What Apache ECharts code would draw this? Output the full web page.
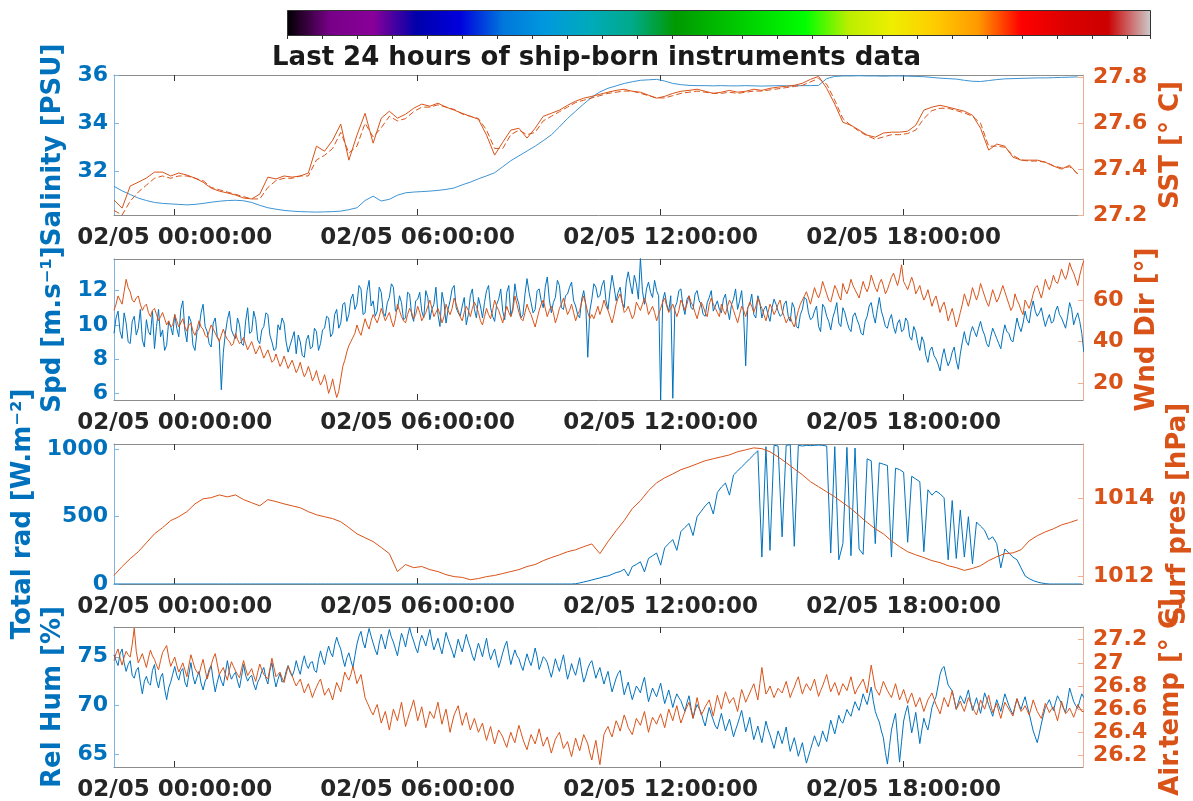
<!DOCTYPE html>
<html><head><meta charset="utf-8">
<script src="https://cdn.jsdelivr.net/npm/echarts@6/dist/echarts.min.js"></script>
<style>html,body{margin:0;padding:0;background:#fff}#c{width:1193px;height:801px}</style>
</head><body><div id="c"></div>
<script>
// ---------------- time base (hours relative to 02/05 00:00) ----------------
const tStart = -1.5;
const dtSlow = 0.2;    // 12-min samples
const dtMid = 0.1;     // 6-min samples
const dtFast = 0.05;   // 3-min samples
const xMin = -1.5, xMax = 22.43;
const timeTicks = [0, 6, 12, 18];
const tickDate = '02/05';

// ---------------- tick labels ----------------
const salinityTicks = [32, 34, 36];
const sstTicks = [27.2, 27.4, 27.6, 27.8];
const speedTicks = [6, 8, 10, 12];
const dirTicks = [20, 40, 60];
const radTicks = [0, 500, 1000];
const presTicks = [1012, 1014];
const rhTicks = [65, 70, 75];
const airTicks = [26.2, 26.4, 26.6, 26.8, 27, 27.2];

// ---------------- series values ----------------
const salinity = [31.39,31.2,31.05,30.9,30.8,30.72,30.68,30.66,30.64,30.62,
30.64,30.68,30.73,30.77,30.8,30.81,30.79,30.72,30.6,30.5,
30.44,30.39,30.36,30.34,30.33,30.32,30.33,30.34,30.36,30.42,
30.5,30.8,30.98,30.78,30.85,31.02,31.12,31.15,31.17,31.19,
31.22,31.26,31.32,31.45,31.56,31.7,31.82,31.95,32.2,32.45,
32.65,32.85,33.05,33.28,33.52,33.85,34.2,34.5,34.8,35.08,
35.3,35.45,35.55,35.65,35.72,35.78,35.8,35.82,35.75,35.65,
35.6,35.57,35.56,35.56,35.55,35.56,35.55,35.55,35.56,35.55,
35.54,35.55,35.56,35.55,35.55,35.56,35.56,35.57,35.85,35.94,
35.96,35.96,35.97,35.96,35.96,35.95,35.96,35.96,35.95,35.94,
35.93,35.9,35.87,35.85,35.83,35.78,35.74,35.73,35.77,35.81,
35.84,35.85,35.86,35.87,35.88,35.88,35.89,35.9,35.91,35.92];

const sstA = [27.265,27.23,27.326,27.343,27.361,27.387,27.387,27.37,27.383,27.374,
27.361,27.343,27.317,27.304,27.296,27.287,27.274,27.27,27.291,27.365,
27.357,27.37,27.365,27.37,27.383,27.5,27.478,27.526,27.596,27.439,
27.548,27.643,27.513,27.622,27.652,27.622,27.639,27.665,27.683,27.674,
27.687,27.67,27.657,27.643,27.63,27.617,27.548,27.461,27.517,27.57,
27.578,27.535,27.578,27.63,27.643,27.657,27.678,27.696,27.709,27.717,
27.726,27.735,27.743,27.748,27.739,27.735,27.722,27.709,27.717,27.73,
27.739,27.743,27.748,27.739,27.73,27.735,27.743,27.735,27.739,27.748,
27.743,27.752,27.757,27.761,27.765,27.774,27.791,27.804,27.752,27.683,
27.604,27.591,27.57,27.548,27.539,27.557,27.561,27.561,27.565,27.591,
27.657,27.67,27.678,27.67,27.661,27.652,27.635,27.578,27.483,27.509,
27.5,27.452,27.439,27.439,27.439,27.43,27.413,27.4,27.417,27.378];

const sstB = [27.22,27.2,27.26,27.3,27.33,27.36,27.37,27.36,27.37,27.37,
27.36,27.35,27.32,27.31,27.3,27.29,27.28,27.27,27.27,27.32,
27.35,27.36,27.36,27.37,27.37,27.44,27.46,27.49,27.56,27.47,
27.5,27.6,27.54,27.58,27.63,27.61,27.62,27.65,27.67,27.67,
27.68,27.67,27.66,27.64,27.63,27.62,27.57,27.49,27.49,27.55,
27.57,27.55,27.56,27.61,27.63,27.65,27.67,27.69,27.7,27.71,
27.72,27.73,27.735,27.74,27.74,27.73,27.72,27.71,27.71,27.72,
27.73,27.735,27.74,27.735,27.73,27.73,27.735,27.73,27.735,27.74,
27.74,27.745,27.75,27.755,27.76,27.765,27.78,27.795,27.77,27.7,
27.62,27.59,27.565,27.545,27.53,27.54,27.55,27.55,27.555,27.57,
27.62,27.655,27.665,27.665,27.655,27.645,27.63,27.6,27.5,27.5,
27.495,27.46,27.44,27.435,27.435,27.43,27.415,27.405,27.41,27.38];

const windSpeed = [
9.5,10.4,10.8,9.6,9.2,10.7,10.1,9.0,8.9,10.2,10.5,9.4,9.8,10.9,9.1,
8.7,10.3,9.6,9.4,10.8,8.6,9.9,10.9,9.3,9.7,8.5,8.8,10.2,9.9,9.4,
10.6,9.8,9.3,10.9,11.4,9.7,9.0,10.5,10.2,8.8,8.5,9.6,9.8,10.7,11.2,
9.9,9.6,8.9,8.7,10.1,10.4,9.3,9.1,6.2,8.4,9.5,10.3,10.8,9.7,9.4,
9.2,10.4,10.0,8.9,8.8,10.2,11.0,9.5,9.6,10.8,10.3,9.1,8.9,9.7,9.9,
10.7,10.6,9.4,9.0,8.5,8.6,10.0,9.7,10.4,10.1,9.0,8.4,8.8,9.2,9.6,
8.3,9.4,9.0,8.2,8.1,9.1,9.4,8.6,8.7,9.8,9.6,8.5,8.9,9.7,9.8,
10.5,10.4,9.3,9.5,10.6,10.9,9.8,10.1,11.2,11.3,10.2,10.6,11.5,11.8,10.9,
11.2,12.3,12.1,10.6,10.7,12.0,12.6,11.1,11.4,10.5,10.8,12.2,11.9,10.7,10.5,
11.3,11.6,12.4,12.2,10.8,10.9,11.7,11.3,10.3,10.4,11.9,11.8,10.6,10.2,11.4,
11.5,11.9,10.8,10.4,12.0,11.6,10.3,10.9,11.2,12.2,10.6,9.9,11.9,11.3,10.1,
10.9,11.4,12.1,12.3,11.0,10.7,10.5,11.1,11.6,10.0,10.6,11.7,12.1,10.9,10.4,
11.6,11.1,10.4,11.3,12.0,12.3,11.0,10.5,10.2,11.2,11.5,12.1,10.8,10.3,11.9,
12.3,10.5,11.0,12.4,11.6,11.2,10.4,10.6,11.8,12.7,11.9,11.3,10.7,10.9,12.0,
12.1,11.4,11.0,12.2,12.8,11.5,10.7,11.3,11.6,12.6,12.3,11.0,10.9,11.7,11.8,
12.2,12.5,11.4,11.1,10.6,10.4,11.5,12.0,11.2,8.1,10.8,11.5,12.4,12.2,11.6,
11.7,12.3,12.6,11.4,10.9,12.0,12.9,12.2,11.4,11.9,12.2,11.3,11.0,12.5,13.1,
12.4,11.8,12.9,12.4,11.5,13.9,12.0,11.2,12.1,12.5,11.9,11.6,12.6,12.0,11.7,
5.6,11.4,11.9,11.2,10.8,11.7,5.7,11.0,11.3,12.0,12.1,11.1,10.6,11.5,11.7,
11.0,10.9,11.8,12.0,11.4,11.2,10.6,10.5,11.3,11.6,12.0,10.8,11.1,11.4,10.9,
10.7,11.5,11.8,10.9,10.3,11.2,11.5,12.1,10.9,11.4,12.0,10.5,7.6,11.0,11.2,
11.8,10.6,10.4,11.7,11.3,10.4,10.9,11.1,10.6,10.2,11.0,11.5,11.2,10.8,10.5,
10.6,11.2,11.4,10.5,10.2,11.3,11.0,9.9,9.8,10.6,10.9,11.6,11.5,10.7,10.3,
10.4,10.8,11.1,9.9,9.6,11.2,11.0,10.5,10.2,9.7,10.4,10.8,11.3,10.1,9.9,
11.0,10.7,10.2,9.8,9.6,10.5,10.7,10.3,10.0,9.5,9.4,10.2,10.5,11.1,11.3,
10.6,10.1,10.9,11.6,10.8,10.4,9.9,9.8,10.3,10.6,9.9,9.5,10.1,10.3,9.6,
9.7,10.4,10.2,9.3,9.1,9.9,9.6,8.9,8.5,9.3,9.0,8.2,7.8,8.5,8.7,
8.2,8.0,7.7,7.3,8.1,8.6,8.0,7.6,7.9,8.4,8.7,7.9,7.4,8.3,9.0,
9.6,9.0,8.8,9.5,9.9,9.6,9.3,9.8,10.2,9.7,9.4,8.9,8.7,9.3,9.8,
9.5,9.2,8.9,8.6,9.4,10.0,9.6,9.5,9.1,9.0,9.7,10.4,9.9,9.6,10.1,
10.8,10.3,10.1,10.9,11.4,10.8,10.5,10.7,11.0,10.4,9.9,10.3,10.6,10.1,10.2,
10.8,11.1,10.6,10.4,10.1,9.8,10.5,11.3,10.9,10.0,10.4,10.7,10.2,9.5,8.4];

const windDir = [
55,58,62,60,58,64,70,66,64,60,59,61,62,58,55,
57,58,54,52,55,56,53,50,52,54,51,48,50,47,48,
53,50,47,49,51,47,45,48,49,45,43,46,50,47,46,
43,42,45,48,46,44,42,40,43,46,43,41,40,38,39,
44,41,39,40,42,39,36,38,40,37,34,36,38,35,32,
34,36,33,30,31,34,31,28,30,33,30,27,29,31,28,
25,27,30,26,23,25,28,25,21,23,26,22,19,21,24,
20,15,18,22,17,13,16,22,28,31,35,38,40,42,44,
48,45,43,47,51,48,46,50,53,51,49,52,56,53,50,
52,54,50,47,51,58,55,52,50,49,53,56,54,51,53,
57,54,50,52,54,57,60,56,52,54,56,53,49,52,58,
55,53,56,61,58,55,52,50,54,57,55,52,56,59,57,
54,50,48,52,56,53,51,55,60,57,55,52,49,53,57,
54,52,55,62,58,54,51,50,54,58,55,53,50,47,51,
55,58,60,56,52,55,57,54,49,52,56,58,61,57,53,
55,58,54,50,53,55,59,62,58,54,51,53,51,54,57,
53,56,60,57,55,52,49,53,58,61,63,59,54,55,57,
54,51,53,59,57,55,58,61,58,53,55,57,54,50,53,
56,59,61,57,54,56,58,55,52,55,60,58,55,58,62,
59,57,54,51,55,59,57,54,52,58,61,58,56,54,52,
58,55,53,57,60,58,55,52,49,53,57,55,52,56,59,
57,54,57,61,58,56,53,50,54,58,56,53,55,58,60,
55,52,49,51,52,49,47,51,55,58,60,62,64,61,58,
62,66,63,61,64,69,66,63,60,59,63,67,65,62,60,
68,65,63,66,70,67,65,63,61,65,69,66,64,67,72,
69,66,64,68,70,67,63,65,68,71,73,70,67,71,77,
69,67,65,68,71,68,63,65,67,63,60,62,65,61,57,
60,62,58,54,57,59,55,50,53,56,52,47,50,54,58,
63,60,57,61,66,63,60,63,68,65,62,59,57,61,65,
62,59,61,64,67,64,61,58,55,57,63,60,58,55,53,
60,58,56,59,63,66,67,64,61,65,70,67,65,68,72,
69,68,71,75,72,70,73,78,75,73,70,67,72,76,79];

const totalRad = [0,0,0,0,0,0,0,0,0,0,0,0,0,0,0,0,0,0,0,0,
0,0,0,0,0,0,0,0,0,0,0,0,0,0,0,0,0,0,0,0,
0,0,0,0,0,0,0,0,0,0,0,0,0,0,0,0,0,0,0,0,
0,0,0,0,0,0,0,0,0,0,0,0,0,0,0,0,0,0,0,0,
0,0,0,0,0,0,0,0,0,0,0,0,0,0,0,0,0,0,0,0,
0,0,0,0,0,0,0,0,0,0,0,0,0,0,
2,8,15,22,30,38,45,55,60,72,
85,92,110,60,130,145,165,90,190,210,
230,140,270,300,330,250,390,420,450,360,
500,540,580,610,520,680,720,750,660,810,
840,870,900,930,960,990,
200,1020,250,1030,1025,350,1030,1035,280,1030,
1025,1030,1028,1030,1032,1030,1025,230,1020,180,
300,1015,210,1010,260,220,930,915,300,900,
890,880,200,860,850,830,310,800,780,760,
240,700,660,690,670,640,180,620,190,550,
200,500,150,460,430,400,330,350,300,120,
260,230,200,180,120,60,40,25,15,8,3,
0,0,0,0,0,0,0,0,0];

const surfPres = [1012.02,1012.25,1012.45,1012.63,1012.86,1013.09,1013.25,1013.43,1013.53,1013.66,
1013.86,1013.99,1014.02,1014.09,1014.04,1014.09,1013.97,1013.89,1013.81,1013.97,
1013.92,1013.86,1013.81,1013.76,1013.66,1013.58,1013.53,1013.48,1013.4,1013.25,
1013.09,1012.99,1012.89,1012.74,1012.58,1012.12,1012.3,1012.22,1012.25,1012.17,
1012.12,1012.04,1011.99,1011.97,1011.91,1011.94,1011.99,1012.02,1012.07,1012.12,
1012.17,1012.25,1012.3,1012.4,1012.48,1012.55,1012.63,1012.68,1012.76,1012.83,
1012.58,1012.89,1013.17,1013.43,1013.74,1013.94,1014.2,1014.4,1014.53,1014.63,
1014.74,1014.81,1014.89,1014.97,1015.02,1015.07,1015.12,1015.2,1015.25,1015.3,
1015.28,1015.2,1015.07,1014.92,1014.76,1014.61,1014.43,1014.3,1014.17,1014.04,
1013.89,1013.74,1013.56,1013.38,1013.22,1013.09,1012.91,1012.76,1012.63,1012.55,
1012.48,1012.4,1012.35,1012.27,1012.22,1012.15,1012.2,1012.27,1012.4,1012.5,
1012.58,1012.6,1012.68,1012.91,1013.04,1013.14,1013.22,1013.32,1013.38,1013.45];

const relHum = [
75.2,74.6,74.1,75.3,75.8,74.4,73.5,74.2,74.6,73.1,72.8,73.6,73.9,72.4,71.2,
72.5,73.0,72.3,72.1,73.6,74.2,72.6,71.8,72.9,73.3,71.7,70.6,71.8,72.4,73.2,
74.0,73.1,72.6,73.5,73.8,72.4,71.9,73.2,74.4,73.0,72.2,72.9,73.5,72.3,71.6,
72.5,72.9,73.7,74.1,72.6,71.4,72.4,73.2,72.5,72.0,73.3,74.6,73.4,72.7,73.1,
73.4,72.5,71.8,73.0,74.2,73.1,72.5,72.9,73.1,72.2,71.6,72.4,72.8,73.5,73.9,
72.8,72.2,73.6,74.4,72.9,71.9,72.7,73.3,72.4,72.6,73.5,74.1,73.4,73.0,73.6,
74.6,73.8,73.2,74.3,75.1,74.2,73.8,74.4,74.5,73.6,73.4,74.7,75.6,74.8,74.2,
75.3,76.1,75.4,75.0,76.2,77.0,76.3,75.8,74.8,74.0,74.9,75.4,74.6,73.9,75.1,
76.3,77.1,77.6,76.5,75.9,77.0,77.9,77.1,76.4,75.7,75.2,76.4,77.3,76.6,75.8,
76.9,77.8,77.0,76.5,75.8,75.1,76.3,77.4,76.8,76.0,77.1,78.0,77.2,76.6,75.9,
75.4,76.5,77.2,76.7,76.1,77.0,77.8,76.6,75.7,76.3,76.9,76.0,75.3,76.4,77.5,
76.8,76.2,75.6,74.9,75.8,76.8,76.1,75.5,76.4,77.3,76.5,75.9,75.1,74.6,75.6,
76.4,75.7,75.0,76.0,76.9,75.6,74.7,75.3,75.8,74.8,73.9,74.6,75.4,76.1,76.6,
75.3,74.2,75.0,75.7,75.1,74.8,74.1,73.6,74.5,75.3,74.6,74.1,74.9,75.9,75.0,
73.7,74.3,75.0,74.8,74.4,73.6,72.9,73.8,74.8,74.1,73.5,74.4,75.2,73.9,72.7,
73.4,74.3,73.6,73.1,74.0,74.9,73.5,72.4,73.0,73.8,74.3,74.6,73.7,72.8,73.4,
73.9,73.0,72.2,72.9,73.5,72.4,71.4,72.1,72.8,73.3,73.6,72.3,71.1,71.8,72.4,
71.4,70.6,71.3,72.0,71.7,71.3,72.2,72.9,71.6,70.4,71.1,71.8,71.3,70.9,71.6,
72.3,71.2,70.2,70.9,71.6,70.7,69.8,70.6,71.2,70.8,70.5,69.9,69.4,70.3,71.0,
69.8,68.7,69.5,70.1,69.7,69.3,68.5,67.9,68.9,69.8,69.1,68.5,67.9,67.6,68.4,
69.2,68.3,67.4,68.0,68.6,67.7,66.8,67.5,68.1,68.8,69.5,68.4,67.3,68.0,68.8,
67.6,66.5,67.2,67.9,67.0,66.2,67.3,68.4,67.6,67.0,66.3,65.6,66.5,67.4,66.8,
66.1,66.9,67.8,66.4,65.3,66.0,66.7,65.8,64.8,65.5,66.2,65.1,64.1,64.8,65.5,
66.2,66.9,66.3,65.8,66.5,67.4,66.8,66.3,67.4,68.5,67.8,67.1,68.0,69.0,68.4,
68.2,68.9,69.6,69.2,68.9,69.7,70.4,69.9,69.5,70.3,71.2,70.6,70.1,71.0,71.9,
70.5,69.4,68.8,68.3,67.4,66.7,65.2,64.0,65.8,67.5,68.4,69.2,66.7,64.2,66.3,
68.4,69.3,70.0,68.6,67.2,68.2,69.3,67.7,66.1,67.5,68.7,68.0,67.5,68.6,69.8,
70.4,70.9,72.0,73.2,73.8,74.0,73.0,72.1,71.8,71.5,70.6,69.6,70.3,71.0,70.6,
70.2,70.9,71.6,70.5,69.5,70.1,70.8,70.0,69.2,70.2,71.3,70.7,70.1,69.5,68.9,
69.8,70.6,70.0,69.4,70.3,71.2,70.6,70.0,69.5,69.1,69.9,70.7,70.1,69.6,70.3,
70.9,70.0,69.2,68.3,67.4,66.8,66.2,67.1,68.1,69.0,69.8,70.2,70.6,70.0,69.5,
70.3,71.0,70.6,70.2,69.7,69.3,70.5,71.8,71.1,70.4,70.0,69.7,70.5,71.2,70.8];

const airTemp = [
27.02,27.08,27.12,27.04,26.98,27.05,27.1,27.07,27.05,27.16,27.3,27.1,27.0,27.04,27.08,
27.02,26.96,27.04,27.11,27.06,27.03,26.98,26.94,27.02,27.09,27.12,27.15,27.05,26.97,27.01,
27.05,26.98,26.92,26.96,27.0,26.94,26.88,26.98,27.07,27.01,26.95,26.92,26.9,26.97,27.03,
26.94,26.86,26.92,26.98,27.04,27.08,26.99,26.9,26.93,26.96,26.9,26.85,26.94,27.01,26.97,
26.93,26.9,26.87,26.95,27.02,26.95,26.89,26.92,26.95,26.89,26.84,26.92,26.99,26.94,26.9,
26.88,26.86,26.95,27.04,26.96,26.88,26.9,26.92,26.87,26.83,26.9,26.97,26.93,26.89,26.84,
26.8,26.83,26.86,26.8,26.74,26.78,26.82,26.76,26.7,26.75,26.79,26.83,26.86,26.79,26.72,
26.75,26.78,26.73,26.68,26.76,26.83,26.79,26.75,26.84,26.92,26.88,26.85,26.9,26.97,26.9,
26.82,26.86,26.9,26.8,26.7,26.66,26.62,26.58,26.55,26.6,26.64,26.56,26.48,26.53,26.58,
26.5,26.42,26.51,26.6,26.55,26.5,26.58,26.66,26.55,26.45,26.51,26.57,26.62,26.68,26.59,
26.5,26.56,26.62,26.53,26.44,26.51,26.58,26.55,26.52,26.59,26.66,26.56,26.47,26.54,26.6,
26.5,26.4,26.48,26.55,26.59,26.63,26.54,26.46,26.52,26.57,26.49,26.42,26.47,26.52,26.46,
26.4,26.44,26.48,26.4,26.33,26.39,26.45,26.37,26.3,26.36,26.42,26.39,26.36,26.31,26.27,
26.34,26.4,26.35,26.31,26.39,26.46,26.4,26.34,26.29,26.25,26.32,26.38,26.34,26.3,26.36,
26.43,26.35,26.28,26.32,26.36,26.29,26.22,26.28,26.34,26.37,26.4,26.33,26.26,26.29,26.32,
26.25,26.19,26.27,26.35,26.29,26.24,26.31,26.38,26.34,26.3,26.22,26.16,26.25,26.33,26.22,
26.12,26.25,26.38,26.42,26.45,26.4,26.36,26.43,26.5,26.46,26.41,26.48,26.55,26.5,26.44,
26.41,26.38,26.45,26.52,26.49,26.46,26.52,26.58,26.49,26.4,26.47,26.53,26.5,26.47,26.52,
26.56,26.5,26.44,26.52,26.6,26.55,26.5,26.57,26.63,26.55,26.48,26.53,26.58,26.62,26.66,
26.59,26.52,26.61,26.7,26.62,26.55,26.58,26.62,26.65,26.68,26.61,26.54,26.63,26.72,26.66,
26.6,26.68,26.75,26.7,26.65,26.68,26.7,26.64,26.58,26.68,26.77,26.72,26.66,26.7,26.74,
26.78,26.82,26.75,26.68,26.82,26.96,26.84,26.73,26.76,26.8,26.75,26.7,26.74,26.78,26.76,
26.74,26.79,26.84,26.77,26.7,26.75,26.79,26.84,26.88,26.8,26.73,26.78,26.82,26.79,26.76,
26.81,26.86,26.78,26.71,26.76,26.8,26.85,26.9,26.82,26.75,26.79,26.83,26.78,26.72,26.77,
26.82,26.79,26.76,26.82,26.88,26.8,26.73,26.77,26.8,26.83,26.86,26.8,26.74,26.86,26.98,
26.88,26.78,26.75,26.72,26.78,26.84,26.8,26.76,26.73,26.7,26.76,26.82,26.75,26.68,26.72,
26.77,26.71,26.65,26.7,26.74,26.68,26.62,26.66,26.7,26.64,26.58,26.63,26.68,26.71,26.74,
26.69,26.64,26.6,26.56,26.63,26.7,26.66,26.62,26.69,26.76,26.68,26.6,26.63,26.67,26.62,
26.58,26.64,26.7,26.66,26.62,26.58,26.55,26.61,26.68,26.64,26.6,26.66,26.72,26.64,26.57,
26.61,26.65,26.58,26.52,26.59,26.66,26.63,26.6,26.57,26.54,26.62,26.69,26.63,26.58,26.6,
26.63,26.59,26.55,26.61,26.68,26.63,26.58,26.55,26.52,26.58,26.65,26.61,26.57,26.6,26.62,
26.56,26.5,26.58,26.67,26.61,26.56,26.58,26.61,26.57,26.53,26.58,26.64,26.61,26.58,26.58];

// colour bar (nipy_spectral-like) stops
const colorbarStops = [
 [0,'#000000'],[0.05,'#780088'],[0.1,'#880099'],[0.15,'#0000aa'],[0.2,'#0000dd'],
 [0.25,'#0077dd'],[0.3,'#0099dd'],[0.35,'#00aabb'],[0.4,'#00aa88'],[0.45,'#009900'],
 [0.5,'#00bb00'],[0.55,'#00dd00'],[0.6,'#00ff00'],[0.65,'#bbee00'],[0.7,'#eeee00'],
 [0.75,'#ffcc00'],[0.8,'#ff9900'],[0.85,'#ff0000'],[0.9,'#dd0000'],[0.95,'#cc0000'],[1,'#cccccc']];
const colorbarTickCount = 24.66;

// ---------------- styling ----------------
const FONT = 'DejaVu Sans';
const BLUE = '#0072BD', ORANGE = '#D95319';
const BLUE_AX = '#7fb6df', ORANGE_AX = '#eeae92';

function pairs(vals, dt){ return vals.map((v,i)=>[tStart + i*dt, v]); }

const grids = [
  {left:114, right:110, top:75, height:140, outerBoundsMode:'none'},
  {left:114, right:110, top:259, height:141, outerBoundsMode:'none'},
  {left:114, right:110, top:444, height:140, outerBoundsMode:'none'},
  {left:114, right:110, top:627, height:140, outerBoundsMode:'none'},
  {left:287, top:10, width:863, height:25, outerBoundsMode:'none'}
];

function xAx(g, pos, labels){
  return {type:'value', gridIndex:g, position:pos, min:xMin, max:xMax,
    axisLine:{show:true, onZero:false, lineStyle:{color:'#8c8c8c', width:1}},
    axisTick:{show:true, inside:true, length:6, customValues:timeTicks, lineStyle:{color:'#333'}},
    axisLabel:{show:labels, customValues:timeTicks, margin:12, color:'#262626', fontFamily:FONT, fontWeight:'bold', fontSize:23,
      formatter: v => tickDate + ' ' + String(v).padStart(2,'0') + ':00:00'},
    splitLine:{show:false}};
}
function yAx(g, side, name, min, max, ticks, color, lineColor, gap, margin){
  return {type:'value', gridIndex:g, position:side, min:min, max:max,
    name:name, nameLocation:'middle', nameGap:gap,
    nameTextStyle:{color:color, fontFamily:FONT, fontWeight:'bold', fontSize:26},
    axisLine:{show:true, onZero:false, lineStyle:{color:lineColor, width:1}},
    axisTick:{show:true, inside:true, length:5, customValues:ticks, lineStyle:{color:lineColor}},
    axisLabel:{show:true, customValues:ticks, margin:margin, color:color, fontFamily:FONT, fontWeight:'bold', fontSize:22,
      formatter: v => String(v)},
    splitLine:{show:false}};
}

const xAxes = [];
for (let g=0; g<4; g++){ xAxes.push(xAx(g,'bottom',true)); xAxes.push(xAx(g,'top',false)); }
xAxes.push({type:'value', gridIndex:4, min:0, max:colorbarTickCount, interval:1,
  axisLine:{show:false}, axisTick:{show:true, length:4, lineStyle:{color:'#333'}}, axisLabel:{show:false}, splitLine:{show:false}});

const yAxes = [
  yAx(0,'left','Salinity [PSU]',30.2,36,salinityTicks,BLUE,BLUE_AX,41,6),
  yAx(0,'right','SST [° C]',27.2,27.81,sstTicks,ORANGE,ORANGE_AX,73,10),
  yAx(1,'left','Spd [m.s⁻¹]',5.6,13.85,speedTicks,BLUE,BLUE_AX,41,6),
  yAx(1,'right','Wnd Dir [°]',11.8,79.8,dirTicks,ORANGE,ORANGE_AX,48,10),
  yAx(2,'left','Total rad [W.m⁻²]',0,1040,radTicks,BLUE,BLUE_AX,76,6),
  yAx(2,'right','Surf pres [hPa]',1011.8,1015.4,presTicks,ORANGE,ORANGE_AX,77,10),
  yAx(3,'left','Rel Hum [%]',63.7,78.05,rhTicks,BLUE,BLUE_AX,41,6),
  yAx(3,'right','Air.temp [° C]',26.1,27.31,airTicks,ORANGE,ORANGE_AX,73,10),
  {type:'value', gridIndex:4, show:false, min:0, max:1}
];

function line(data, xi, yi, color, extra){
  return Object.assign({type:'line', xAxisIndex:xi, yAxisIndex:yi, data:data, showSymbol:false, symbol:'none',
    silent:true, lineStyle:{color:color, width:1}, itemStyle:{color:color}}, extra||{});
}

const series = [
  line(pairs(salinity,dtSlow),0,0,'#3d93d3'),
  line(pairs(sstA,dtSlow),0,1,ORANGE),
  line(pairs(sstB,dtSlow),0,1,ORANGE,{lineStyle:{color:ORANGE,width:1,type:[6,3]}}),
  line(pairs(windSpeed,dtFast),2,2,BLUE),
  line(pairs(windDir,dtFast),2,3,ORANGE),
  line(pairs(totalRad,dtMid),4,4,BLUE),
  line(pairs(surfPres,dtSlow),4,5,ORANGE),
  line(pairs(relHum,dtFast),6,6,BLUE),
  line(pairs(airTemp,dtFast),6,7,ORANGE)
];

const chart = echarts.init(document.getElementById('c'), null, {renderer:'canvas'});
chart.setOption({
  animation:false,
  backgroundColor:'#ffffff',
  title:{text:'Last 24 hours of ship-born instruments data', left:'center', top:45, padding:0,
    textStyle:{fontFamily:FONT, fontWeight:'bold', fontSize:26, color:'#1a1a1a'}},
  grid:grids,
  xAxis:xAxes,
  yAxis:yAxes,
  series:series,
  graphic:[{type:'rect', left:287, top:10, z:0, silent:true,
    shape:{width:863, height:25},
    style:{fill:new echarts.graphic.LinearGradient(0,0,1,0, colorbarStops.map(s=>({offset:s[0], color:s[1]}))), stroke:'#333', lineWidth:1}}]
});
</script></body></html>
